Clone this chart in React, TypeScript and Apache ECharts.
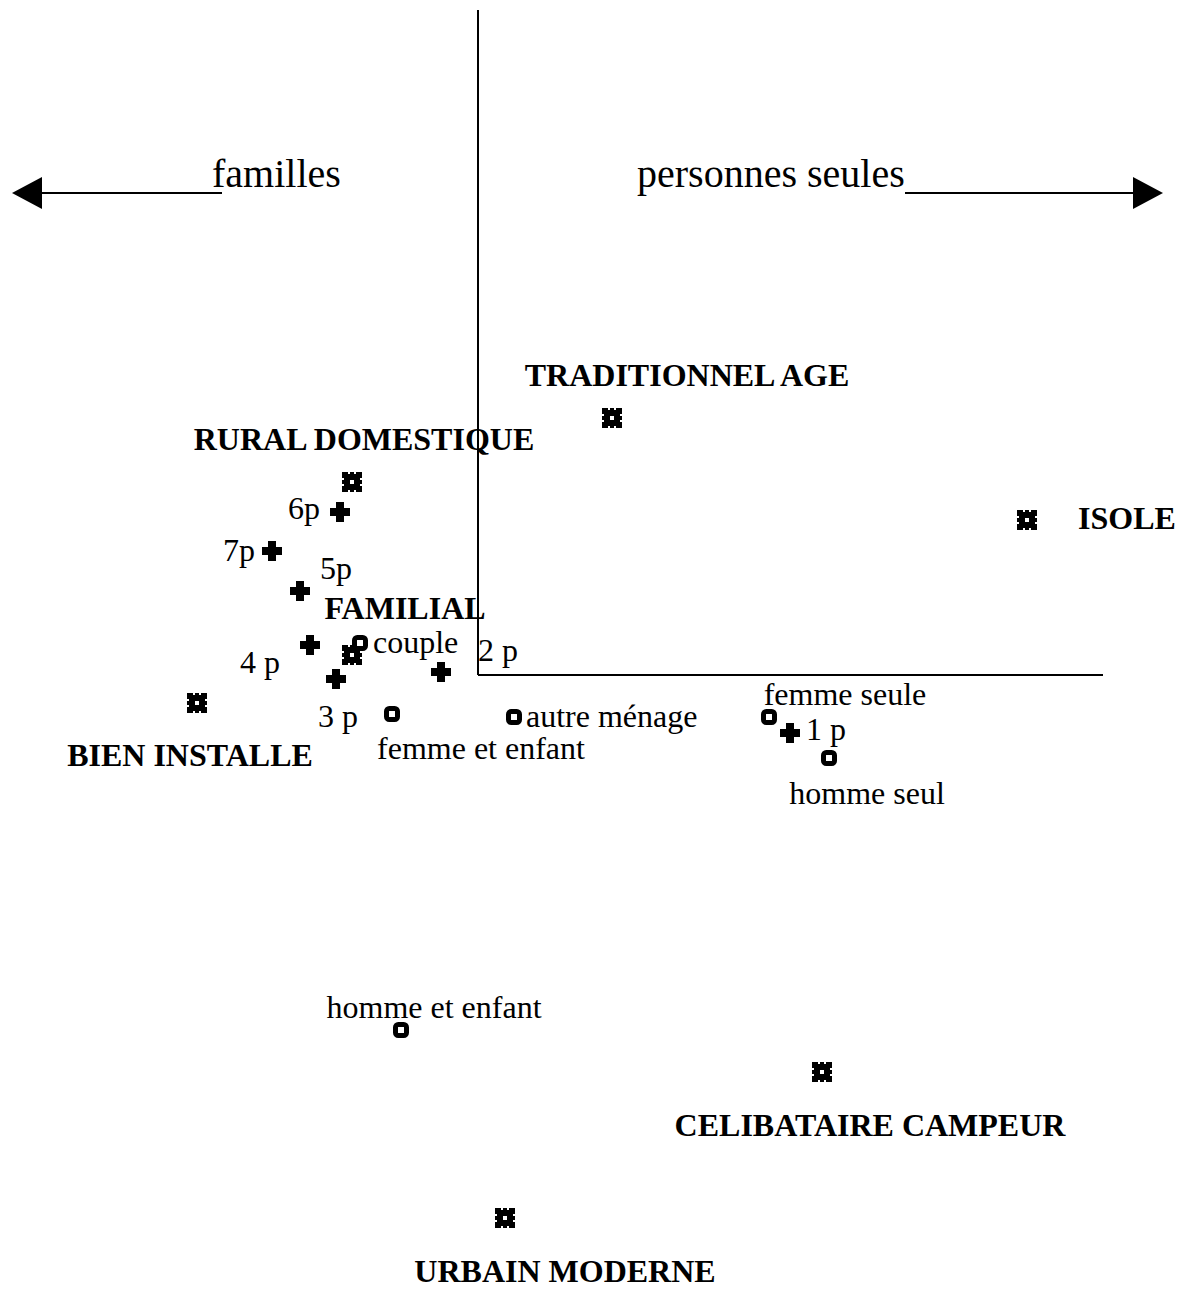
import React, { useEffect, useRef } from "react";
import * as echarts from "echarts";

// ---- Data (factor-plane coordinates) ----
const typeNames = [
  "TRADITIONNEL AGE",
  "RURAL DOMESTIQUE",
  "ISOLE",
  "FAMILIAL",
  "BIEN INSTALLE",
  "CELIBATAIRE CAMPEUR",
  "URBAIN MODERNE",
];
const typeX = [1.34, -1.26, 5.49, -1.26, -2.81, 3.44, 0.27];
const typeY = [2.57, 1.93, 1.55, 0.2, -0.28, -3.97, -5.43];

const sizeNames = ["6p", "7p", "5p", "4 p", "3 p", "2 p", "1 p"];
const sizeX = [-1.38, -2.06, -1.78, -1.68, -1.42, -0.37, 3.12];
const sizeY = [1.63, 1.24, 0.84, 0.3, -0.04, 0.03, -0.58];

const menageNames = [
  "couple",
  "femme et enfant",
  "autre ménage",
  "femme seule",
  "homme seul",
  "homme et enfant",
];
const menageX = [-1.18, -0.86, 0.36, 2.91, 3.51, -0.77];
const menageY = [0.32, -0.39, -0.42, -0.42, -0.83, -3.55];

const headingLeft = "familles";
const headingRight = "personnes seules";

// ---- Label placement (style only) ----
const typeLabelPlace: [string, number, number][] = [
  ["center", 75, -43],
  ["center", 12, -43],
  ["left", 51, -2],
  ["center", 53, -47],
  ["center", -7, 52],
  ["center", 48, 53],
  ["center", 60, 53],
];
const sizeLabelPlace: [string, number, number][] = [
  ["right", -20, -4],
  ["right", -17, -1],
  ["left", 20, -23],
  ["right", -30, 17],
  ["center", 2, 37],
  ["left", 37, -22],
  ["left", 16, -4],
];
const menageLabelPlace: [string, number, number][] = [
  ["left", 13, -1],
  ["center", 89, 34],
  ["left", 12, -1],
  ["center", 76, -23],
  ["center", 38, 35],
  ["center", 33, -23],
];

// ---- Symbols ----
const starPattern = [
  "XXX.XX.XXX",
  "XXXXXXXXXX",
  "XXXXXXXXXX",
  ".XXXXXXXX.",
  "XXXX..XXXX",
  "XXXX..XXXX",
  ".XXXXXXXX.",
  "XXXXXXXXXX",
  "XXXXXXXXXX",
  "XXX.XX.XXX",
];
function patternPath(p: string[]) {
  let d = "";
  p.forEach((row, r) => {
    row.split("").forEach((c, col) => {
      if (c === "X") d += `M${col} ${r}h1v1h-1Z`;
    });
  });
  return "path://" + d;
}
const starSymbol = patternPath(starPattern);
const plusSymbol = "path://M3 0h4v3h3v4h-3v3h-4v-3h-3v-4h3Z";

const FONT = "'Liberation Serif', 'Times New Roman', serif";

function buildData(names: string[], xs: number[], ys: number[], place: [string, number, number][], bold: boolean) {
  return names.map((n, i) => ({
    name: n,
    value: [xs[i], ys[i]],
    label: {
      show: true,
      formatter: n,
      position: "inside",
      align: place[i][0],
      verticalAlign: "middle",
      offset: [place[i][1], place[i][2]],
      color: "#000",
      opacity: 1,
      textBorderWidth: 0,
      fontFamily: FONT,
      fontSize: 32,
      fontWeight: bold ? "bold" : "normal",
    },
  }));
}

export default function App() {
  const ref = useRef<HTMLDivElement>(null);
  useEffect(() => {
    document.body.style.margin = "0";
    const chart = echarts.init(ref.current!, null, { renderer: "svg" });
    const lineStyle = { color: "#000", width: 2, type: "solid" as const, opacity: 1 };
    chart.setOption({
      animation: false,
      backgroundColor: "#fff",
      grid: { left: 0, right: 0, top: 0, bottom: 0 },
      xAxis: { type: "value", min: -4.78, max: 7.08, show: false },
      yAxis: { type: "value", min: -6.15, max: 6.75, show: false },
      graphic: [
        {
          type: "text",
          left: 212,
          top: 153,
          style: { text: headingLeft, font: `40px ${FONT}`, fill: "#000" },
        },
        {
          type: "text",
          left: 637,
          top: 153,
          style: { text: headingRight, font: `40px ${FONT}`, fill: "#000" },
        },
      ],
      series: [
        {
          type: "scatter",
          name: "guides",
          data: [],
          silent: true,
          markLine: {
            silent: true,
            animation: false,
            label: { show: false },
            emphasis: { disabled: true },
            symbol: ["none", "none"],
            itemStyle: { color: "#000", opacity: 1 },
            lineStyle,
            data: [
              [{ coord: [0, 6.65] }, { coord: [0, 0] }],
              [{ coord: [0, 0] }, { coord: [6.25, 0] }],
              [
                { coord: [-2.56, 4.82], symbol: "none" },
                { coord: [-4.51, 4.82], symbol: "triangle", symbolSize: [32, 30] },
              ],
              [
                { coord: [4.27, 4.82], symbol: "none" },
                { coord: [6.7, 4.82], symbol: "triangle", symbolSize: [32, 30] },
              ],
            ],
          },
        },
        {
          type: "scatter",
          name: "types",
          symbol: starSymbol,
          symbolSize: 20,
          itemStyle: { color: "#000", opacity: 1 },
          emphasis: { disabled: true },
          data: buildData(typeNames, typeX, typeY, typeLabelPlace, true),
        },
        {
          type: "scatter",
          name: "taille",
          symbol: plusSymbol,
          symbolSize: 20,
          itemStyle: { color: "#000", opacity: 1 },
          emphasis: { disabled: true },
          data: buildData(sizeNames, sizeX, sizeY, sizeLabelPlace, false),
        },
        {
          type: "scatter",
          name: "menage",
          symbol: "roundRect",
          symbolSize: 11,
          itemStyle: { color: "#fff", borderColor: "#000", borderWidth: 5, opacity: 1 },
          emphasis: { disabled: true },
          data: buildData(menageNames, menageX, menageY, menageLabelPlace, false),
        },
      ],
    });
    return () => chart.dispose();
  }, []);
  return <div ref={ref} style={{ width: 1186, height: 1290 }} />;
}
